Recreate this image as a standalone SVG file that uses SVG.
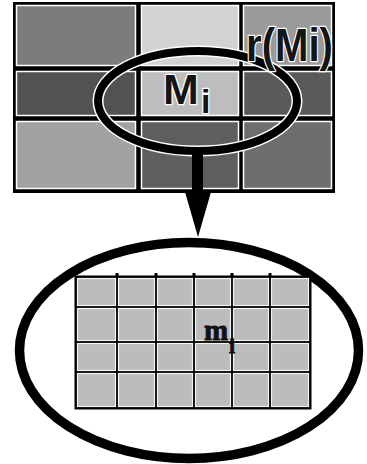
<svg xmlns="http://www.w3.org/2000/svg" width="367" height="464" viewBox="0 0 367 464">
<style>
.cell{stroke:#fff;stroke-width:1.5}
.lab{font-family:"Liberation Sans",Arial,sans-serif;font-weight:bold;fill:#151515;stroke:#fff;stroke-width:2.5;paint-order:stroke;stroke-linejoin:round}
.sm{font-family:"Liberation Serif","Times New Roman",serif;font-weight:bold;fill:#111;stroke:#111;stroke-width:0.8}
.icell{fill:#bcbcbc;stroke:#f4f4f4;stroke-width:1.2}
</style>
<rect width="367" height="464" fill="#fff"/>
<g id="top-grid">
  <rect x="13" y="2" width="322" height="191" fill="#000"/>
  <rect class="cell" x="16.5" y="5.5" width="119" height="60" fill="#7c7c7c"/>
  <rect class="cell" x="141.5" y="5.5" width="97" height="60" fill="#d2d2d2"/>
  <rect class="cell" x="243.5" y="5.5" width="88" height="60" fill="#9a9a9a"/>
  <rect class="cell" x="16.5" y="71.5" width="119" height="44" fill="#525252"/>
  <rect class="cell" x="141.5" y="71.5" width="97" height="44" fill="#bdbdbd"/>
  <rect class="cell" x="243.5" y="71.5" width="88" height="44" fill="#5a5a5a"/>
  <rect class="cell" x="16.5" y="121.5" width="119" height="67" fill="#a2a2a2"/>
  <rect class="cell" x="141.5" y="121.5" width="97" height="67" fill="#5e5e5e"/>
  <rect class="cell" x="243.5" y="121.5" width="88" height="67" fill="#6e6e6e"/>
</g>
<g id="highlight">
  <ellipse cx="197.5" cy="101" rx="99.5" ry="50" fill="none" stroke="#fff" stroke-width="11"/>
  <ellipse cx="197.5" cy="101" rx="99.5" ry="50" fill="none" stroke="#000" stroke-width="8"/>
</g>
<g id="label-Mi">
  <text class="lab" x="163" y="104" font-size="43">M</text>
  <text class="lab" x="201" y="113" font-size="34">i</text>
</g>
<g id="label-rMi">
  <text class="lab" x="246" y="61" font-size="46" textLength="87" lengthAdjust="spacingAndGlyphs">r(Mi)</text>
</g>
<g id="connectors">
  <rect x="192" y="150" width="11" height="43" fill="#000"/>
  <polygon points="185,192 211,192 198,237" fill="#000"/>
</g>
<g id="bottom-node">
  <ellipse cx="189" cy="350.5" rx="169.5" ry="108" fill="#fff" stroke="#000" stroke-width="9.5"/>
  <g id="inner-grid">
    <rect x="74.5" y="275.5" width="237" height="134" fill="#000"/>
    <path d="M117 273V278M156 273V278M194 273V278M232 273V278M270 273V278" stroke="#000" stroke-width="3"/>
    <g>
      <rect class="icell" x="77.5" y="278.5" width="38" height="27"/>
      <rect class="icell" x="118.5" y="278.5" width="36" height="27"/>
      <rect class="icell" x="157.5" y="278.5" width="35" height="27"/>
      <rect class="icell" x="195.5" y="278.5" width="35" height="27"/>
      <rect class="icell" x="233.5" y="278.5" width="35" height="27"/>
      <rect class="icell" x="271.5" y="278.5" width="37" height="27" fill="#cacaca"/>
      <rect class="icell" x="77.5" y="308.5" width="38" height="32"/>
      <rect class="icell" x="118.5" y="308.5" width="36" height="32"/>
      <rect class="icell" x="157.5" y="308.5" width="35" height="32"/>
      <rect class="icell" x="195.5" y="308.5" width="35" height="32"/>
      <rect class="icell" x="233.5" y="308.5" width="35" height="32"/>
      <rect class="icell" x="271.5" y="308.5" width="37" height="32" fill="#cacaca"/>
      <rect class="icell" x="77.5" y="343.5" width="38" height="27"/>
      <rect class="icell" x="118.5" y="343.5" width="36" height="27"/>
      <rect class="icell" x="157.5" y="343.5" width="35" height="27"/>
      <rect class="icell" x="195.5" y="343.5" width="35" height="27"/>
      <rect class="icell" x="233.5" y="343.5" width="35" height="27"/>
      <rect class="icell" x="271.5" y="343.5" width="37" height="27" fill="#cacaca"/>
      <rect class="icell" x="77.5" y="373.5" width="38" height="33"/>
      <rect class="icell" x="118.5" y="373.5" width="36" height="33"/>
      <rect class="icell" x="157.5" y="373.5" width="35" height="33"/>
      <rect class="icell" x="195.5" y="373.5" width="35" height="33"/>
      <rect class="icell" x="233.5" y="373.5" width="35" height="33"/>
      <rect class="icell" x="271.5" y="373.5" width="37" height="33" fill="#cacaca"/>
    </g>
  </g>
  <text class="sm" x="204" y="340" font-size="29">m</text>
  <text class="sm" x="229" y="353" font-size="22">i</text>
</g>
</svg>
